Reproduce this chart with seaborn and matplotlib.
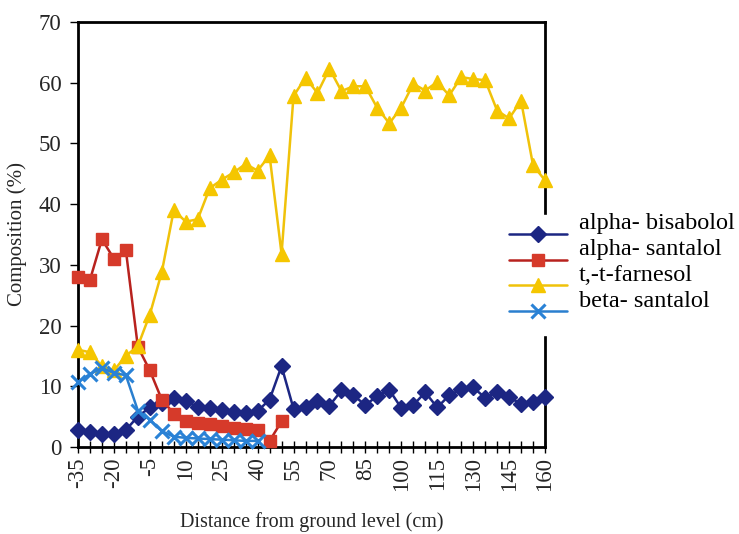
import matplotlib
matplotlib.use("Agg")
import matplotlib.pyplot as plt
import seaborn as sns
import pandas as pd

# Distance from ground level (cm) at each sampling point
distance = [-35, -30, -25, -20, -15, -10, -5, 0, 5, 10, 15, 20, 25, 30, 35, 40,
            45, 50, 55, 60, 65, 70, 75, 80, 85, 90, 95, 100, 105, 110, 115, 120,
            125, 130, 135, 140, 145, 150, 155, 160]

# Composition (%) of each compound
alpha_bisabolol = [2.8, 2.5, 2.2, 2.2, 2.8, 5.0, 6.5, 7.3, 8.0, 7.5, 6.6, 6.4, 6.1,
                   5.8, 5.6, 5.9, 7.8, 13.3, 6.3, 6.6, 7.6, 6.8, 9.3, 8.5, 6.9, 8.4,
                   9.4, 6.4, 6.9, 9.0, 6.5, 8.5, 9.5, 9.8, 8.1, 9.0, 8.2, 7.1, 7.4, 8.2]
alpha_santalol = [28.0, 27.5, 34.2, 31.0, 32.4, 16.5, 12.6, 7.8, 5.5, 4.3, 4.0, 3.8,
                  3.4, 3.1, 2.9, 2.8, 1.0, 4.2]
tt_farnesol = [16.0, 15.6, 13.3, 12.6, 15.0, 16.6, 21.8, 28.8, 39.0, 37.1, 37.5, 42.6,
               44.0, 45.2, 46.6, 45.5, 48.0, 31.8, 57.8, 60.8, 58.3, 62.3, 58.6, 59.4,
               59.4, 55.8, 53.3, 55.9, 59.8, 58.7, 60.1, 57.9, 60.9, 60.6, 60.4, 55.4,
               54.1, 57.0, 46.4, 43.9]
beta_santalol = [10.7, 12.0, 13.0, 12.2, 11.8, 6.0, 4.5, 2.6, 1.7, 1.5, 1.4, 1.3, 1.2,
                 1.1, 1.0, 1.0]

xtick_labels = [-35, -20, -5, 10, 25, 40, 55, 70, 85, 100, 115, 130, 145, 160]

series = [
    ("alpha- bisabolol", alpha_bisabolol, "#1c2683", "#1c2683", "D", 8.5, 1.0),
    ("alpha- santalol", alpha_santalol, "#b8221e", "#d63a2a", "s", 8.5, 1.0),
    ("t,-t-farnesol", tt_farnesol, "#f0c20a", "#f5c600", "^", 10.5, 1.0),
    ("beta- santalol", beta_santalol, "#2a7fcf", "#2a82d6", "x", 9.5, 2.2),
]

sns.set_theme(style="white")
plt.rcParams["font.family"] = ["Liberation Serif", "DejaVu Serif"]

fig = plt.figure(figsize=(7.39, 5.34), dpi=100)
ax = fig.add_axes([0.1055, 0.163, 0.632, 0.796])

for name, vals, lc, mc, mk, ms, mew in series:
    df = pd.DataFrame({"distance": distance[:len(vals)], "value": vals})
    sns.lineplot(data=df, x="distance", y="value", ax=ax, color=lc, linewidth=1.8,
                 marker=mk, markersize=ms, markerfacecolor=mc, markeredgecolor=mc,
                 markeredgewidth=mew, label=name, clip_on=False, zorder=3)

ax.set_xlim(-35, 160)
ax.set_ylim(0, 70)
ax.set_yticks(range(0, 71, 10))
ax.set_xticks(distance)
ax.set_xticklabels([str(d) if d in xtick_labels else "" for d in distance],
                   rotation=90, fontsize=16.5)
ax.tick_params(axis="y", labelsize=16.5, direction="out", length=6, width=1,
               color="black", left=True, pad=6)
ax.tick_params(axis="x", direction="inout", length=9, width=1, color="black",
               bottom=True, pad=3)

for sp in ax.spines.values():
    sp.set_color("black")
    sp.set_linewidth(2)

ax.set_xlabel("Distance from ground level (cm)", fontsize=14.5, labelpad=15)
ax.set_ylabel("Composition (%)", fontsize=15, labelpad=8)

leg = ax.legend(loc="center left", bbox_to_anchor=(0.675, 0.485),
                bbox_transform=fig.transFigure, frameon=True, fontsize=17.5,
                handlelength=2.4, handletextpad=0.5, labelspacing=0.16,
                borderpad=0.4, borderaxespad=0)
leg.get_frame().set_facecolor("white")
leg.get_frame().set_edgecolor("white")
leg.get_frame().set_alpha(1)
# legend labels sit a little above their line samples
for t in leg.get_texts():
    t.set_color("black")
    t.set_y(13)

fig.savefig("out.png", dpi=100, facecolor="white")
